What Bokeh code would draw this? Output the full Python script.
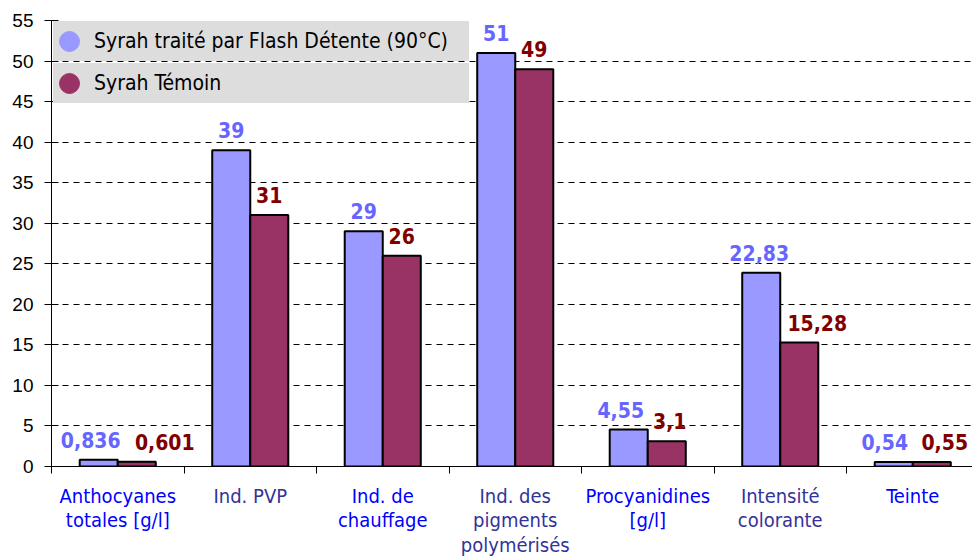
from bokeh.plotting import figure
from bokeh.models import (ColumnDataSource, Range1d, FixedTicker, Legend, LegendItem)
from bokeh.layouts import column
from bokeh.embed import file_html
from bokeh.resources import INLINE
from bokeh.core.properties import value

# ---------------- data ----------------
categories = ["Anthocyanes\ntotales [g/l]", "Ind. PVP", "Ind. de\nchauffage",
              "Ind. des\npigments\npolymérisés", "Procyanidines\n[g/l]",
              "Intensité\ncolorante", "Teinte"]
flash_values = [0.836, 39, 29, 51, 4.55, 23.9, 0.54]
temoin_values = [0.601, 31, 26, 49, 3.1, 15.28, 0.55]
flash_labels = ["0,836", "39", "29", "51", "4,55", "22,83", "0,54"]
temoin_labels = ["0,601", "31", "26", "49", "3,1", "15,28", "0,55"]
series_names = ["Syrah traité par Flash Détente (90°C)", "Syrah Témoin"]
y_ticks = list(range(0, 56, 5))

# ---------------- layout / style ----------------
flash_color = "#9999FF"
temoin_color = "#993366"
flash_text_color = "#6666FF"
temoin_text_color = "#800000"
cat_colors = ["#0000FF", "#333399"]
flash_dx = [-8, 0, 0, 0, -8, -2, -9]
temoin_dx = [28, 0, 0, 0, 3, 18, 13]
bar_w = 0.287
half = bar_w / 2
FONT = "DejaVu Sans Condensed"
W = 972
LEFT = 51
TOP = 20
FRAME_H = 446
BOTTOM = 10
CAT_PX = 132.5
LINE_PX = 24.5

n = len(categories)
idx = list(range(n))
x_end = (W - LEFT) / CAT_PX

main_h = TOP + FRAME_H + BOTTOM
p = figure(width=W, height=main_h, output_backend="svg", toolbar_location=None,
           x_range=Range1d(0, x_end), y_range=Range1d(0, 55),
           min_border_left=LEFT, min_border_right=0, min_border_top=TOP,
           min_border_bottom=BOTTOM)
p.outline_line_color = None
p.background_fill_color = "white"
p.border_fill_color = "white"
p.xgrid.grid_line_color = None
p.ygrid.grid_line_color = "black"
p.ygrid.grid_line_dash = "6 5"
p.ygrid.grid_line_width = 1

# y axis
p.yaxis.ticker = FixedTicker(ticks=y_ticks)
p.yaxis.major_label_text_font = "Liberation Sans"
p.yaxis.major_label_text_font_size = "19px"
p.yaxis.major_label_text_color = "black"
p.yaxis.axis_line_color = "black"
p.yaxis.major_tick_line_color = "black"
p.yaxis.major_tick_in = 7
p.yaxis.major_tick_out = 7
p.yaxis.minor_tick_line_color = None
p.yaxis.major_label_standoff = 11

# x axis (category boundaries)
p.xaxis.ticker = FixedTicker(ticks=list(range(n + 1)))
p.xaxis.major_label_text_font_size = "0px"
p.xaxis.major_label_standoff = 0
p.xaxis.axis_line_color = "black"
p.xaxis.major_tick_line_color = "black"
p.xaxis.major_tick_in = 0
p.xaxis.major_tick_out = 7
p.xaxis.minor_tick_line_color = None

# bars
src_f = ColumnDataSource(dict(x=[i + 0.5 - half for i in idx], top=flash_values,
                              lab=flash_labels, dx=flash_dx))
src_t = ColumnDataSource(dict(x=[i + 0.5 + half for i in idx], top=temoin_values,
                              lab=temoin_labels, dx=temoin_dx))
p.vbar(x="x", top="top", width=bar_w, bottom=0, source=src_f,
       fill_color=flash_color, line_color="black", line_width=2)
p.vbar(x="x", top="top", width=bar_w, bottom=0, source=src_t,
       fill_color=temoin_color, line_color="black", line_width=2)

# value labels
for src, col in ((src_f, flash_text_color), (src_t, temoin_text_color)):
    p.text(x="x", y="top", text="lab", source=src, x_offset="dx", y_offset=-20,
           text_align="center", text_baseline="alphabetic",
           text_font=value(FONT), text_font_style="bold",
           text_font_size="21px", text_color=col)

# legend
nan = float("nan")
r_f = p.scatter(x=[nan], y=[nan], marker="circle", fill_color=flash_color, line_color=flash_color)
r_t = p.scatter(x=[nan], y=[nan], marker="circle", fill_color=temoin_color, line_color=temoin_color)
r_dummy = p.scatter(x=[nan], y=[nan], marker="circle", fill_alpha=0, line_alpha=0)

for y in (405, 363):
    bg = Legend(items=[LegendItem(label=" ", renderers=[r_dummy])], location=(2, y),
                padding=0, margin=0, spacing=0, glyph_width=1, glyph_height=40,
                label_width=415, label_height=40, label_standoff=0,
                background_fill_color="#DDDDDD", background_fill_alpha=1,
                border_line_color=None, label_text_font_size="1px")
    p.add_layout(bg)

for r, name, y in ((r_f, series_names[0], 400), (r_t, series_names[1], 358)):
    fg = Legend(items=[LegendItem(label=name, renderers=[r])], location=(-7, y),
                padding=0, margin=0, spacing=0, glyph_width=50, glyph_height=50,
                label_height=50, label_standoff=0,
                background_fill_alpha=0, border_line_color=None,
                label_text_font=FONT, label_text_font_size="21px",
                label_text_color="black")
    p.add_layout(fg)

# category labels (separate strip below, sharing the x range)
lab_h = 556 - main_h
first_baseline = 495 - main_h
y_top = first_baseline / LINE_PX
y_bot = y_top - lab_h / LINE_PX
lx, ly, lt, lc = [], [], [], []
for i, c in enumerate(categories):
    for k, line in enumerate(c.split("\n")):
        lx.append(i + 0.5)
        ly.append(-k)
        lt.append(line)
        lc.append(cat_colors[i % 2])
p2 = figure(width=W, height=lab_h, output_backend="svg", toolbar_location=None,
            x_range=p.x_range, y_range=Range1d(y_bot, y_top),
            x_axis_type=None, y_axis_type=None,
            min_border_left=LEFT, min_border_right=0, min_border_top=0,
            min_border_bottom=0)
p2.outline_line_color = None
p2.grid.visible = False
p2.text(x=lx, y=ly, text=lt, text_color=lc, text_align="center",
        text_baseline="alphabetic", text_font=value(FONT), text_font_size="20px")

layout = column(p, p2, spacing=0)
open("out.html", "w").write(file_html(layout, INLINE))
